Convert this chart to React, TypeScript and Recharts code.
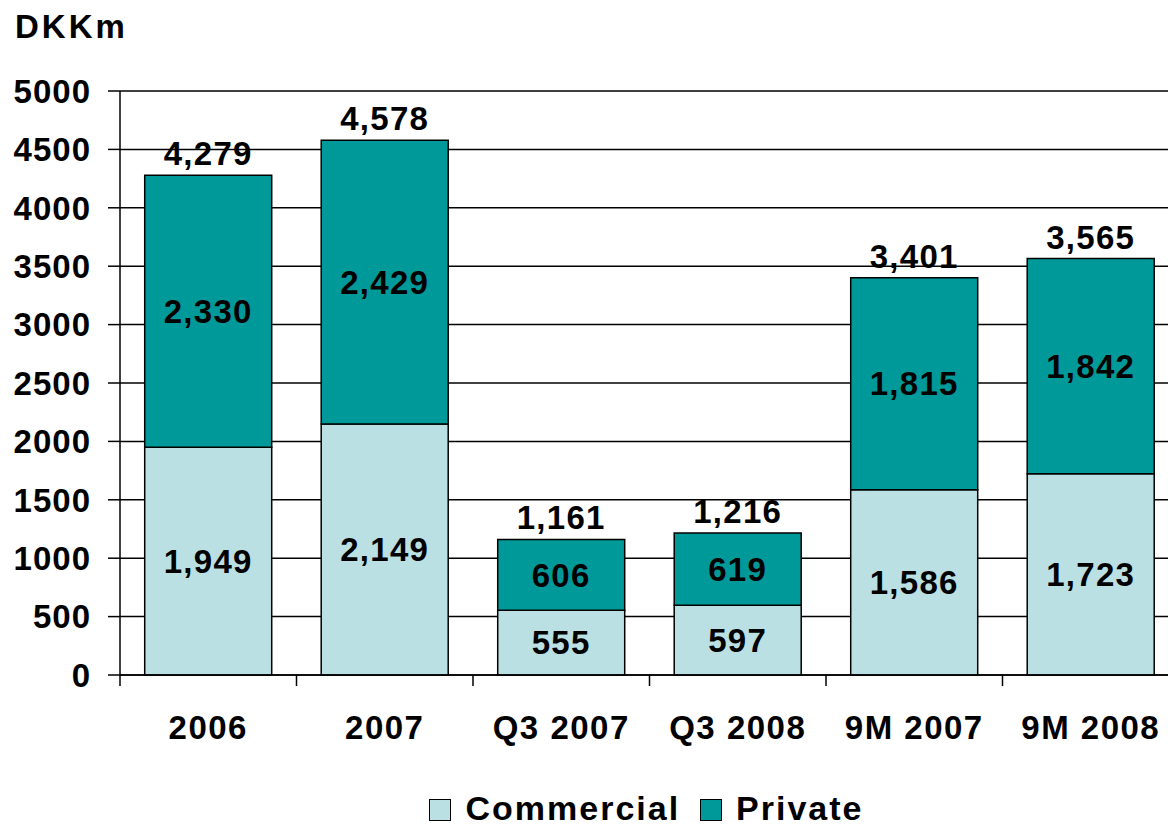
import { BarChart, Bar, XAxis, YAxis, CartesianGrid, Legend, LabelList } from "recharts";

const periods = ["2006", "2007", "Q3 2007", "Q3 2008", "9M 2007", "9M 2008"];
const commercial = [1949, 2149, 555, 597, 1586, 1723];
const privateValues = [2330, 2429, 606, 619, 1815, 1842];
const yTicks = [0, 500, 1000, 1500, 2000, 2500, 3000, 3500, 4000, 4500, 5000];

const COMMERCIAL = "#bbe0e3";
const PRIVATE = "#009999";
const FONT = "'Liberation Sans', Arial, Helvetica, sans-serif";

const data = periods.map((name, i) => ({
  name,
  commercial: commercial[i],
  private: privateValues[i],
  total: commercial[i] + privateValues[i],
}));

const fmt = (v: any) => Number(v).toLocaleString("en-US");

const labelStyle = { fontSize: 33, fontWeight: "bold", fontFamily: FONT, fill: "#000", letterSpacing: 1.3 };

function XTick(props: any) {
  const { x, y, payload, index } = props;
  const half = payload && payload.offset ? payload.offset : 88;
  return (
    <g>
      <line x1={x - half} y1={y} x2={x - half} y2={y + 11} stroke="#000" strokeWidth={1.5} />
      {index === periods.length - 1 && (
        <line x1={x + half} y1={y} x2={x + half} y2={y + 11} stroke="#000" strokeWidth={1.5} />
      )}
      <text
        x={x}
        y={y + 64}
        textAnchor="middle"
        fontSize={33}
        fontWeight="bold"
        fontFamily={FONT}
        fill="#000"
        style={{ letterSpacing: 1.5 }}
      >
        {payload.value}
      </text>
    </g>
  );
}

function LegendBox() {
  const items = [
    { label: "Commercial", color: COMMERCIAL },
    { label: "Private", color: PRIVATE },
  ];
  return (
    <div
      style={{
        display: "flex",
        justifyContent: "center",
        paddingTop: 40,
        paddingLeft: 134,
        fontFamily: FONT,
        fontWeight: "bold",
        fontSize: 34,
        lineHeight: "34px",
        letterSpacing: 2,
        color: "#000",
      }}
    >
      {items.map((it) => (
        <div key={it.label} style={{ display: "flex", alignItems: "center", marginRight: 20 }}>
          <span
            style={{
              display: "inline-block",
              width: 20,
              height: 20,
              background: it.color,
              border: "1.5px solid #000",
              marginRight: 14,
              marginTop: 4,
            }}
          />
          <span>{it.label}</span>
        </div>
      ))}
    </div>
  );
}

export default function App() {
  return (
    <div style={{ position: "absolute", left: 0, top: 0, width: 1168, height: 829, overflow: "hidden", background: "#fff" }}>
      <div
        style={{
          position: "absolute",
          left: 15,
          top: 8,
          fontFamily: FONT,
          fontWeight: "bold",
          fontSize: 33,
          letterSpacing: 3,
          color: "#000",
        }}
      >
        DKKm
      </div>
      <BarChart
        width={1190}
        height={829}
        data={data}
        margin={{ top: 91, right: 11, left: 0, bottom: 0 }}
        barCategoryGap="14%"
      >
        <CartesianGrid vertical={false} stroke="#000" strokeWidth={1.5} />
        <XAxis
          dataKey="name"
          height={76}
          axisLine={{ stroke: "#000", strokeWidth: 1.5 }}
          tickLine={false}
          tickSize={0}
          tickMargin={0}
          tick={<XTick />}
          interval={0}
        />
        <YAxis
          width={120}
          domain={[0, 5000]}
          ticks={yTicks}
          interval={0}
          axisLine={{ stroke: "#000", strokeWidth: 1.5 }}
          tickLine={{ stroke: "#000", strokeWidth: 1.5 }}
          tickSize={12}
          tickMargin={17}
          tick={{ fontSize: 33, fontWeight: "bold", fontFamily: FONT, fill: "#000", style: { letterSpacing: 1 } }}
        />
        <Legend verticalAlign="bottom" height={78} content={<LegendBox />} />
        <Bar dataKey="commercial" name="Commercial" stackId="a" fill={COMMERCIAL} stroke="#000" strokeWidth={1.5} isAnimationActive={false}>
          <LabelList dataKey="commercial" position="center" formatter={fmt} style={labelStyle} />
        </Bar>
        <Bar dataKey="private" name="Private" stackId="a" fill={PRIVATE} stroke="#000" strokeWidth={1.5} isAnimationActive={false}>
          <LabelList dataKey="private" position="center" formatter={fmt} style={labelStyle} />
          <LabelList dataKey="total" position="top" offset={10} formatter={fmt} style={labelStyle} />
        </Bar>
      </BarChart>
    </div>
  );
}
